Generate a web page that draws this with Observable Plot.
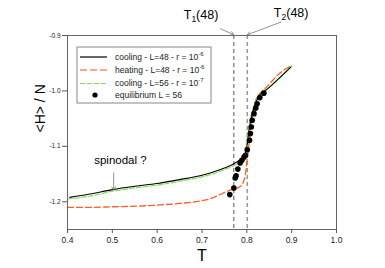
<!DOCTYPE html>
<html><head><meta charset="utf-8">
<script src="https://cdn.jsdelivr.net/npm/d3@7"></script>
<script src="https://cdn.jsdelivr.net/npm/@observablehq/plot@0.6"></script>
<style>
body{margin:0;background:#fff;}
svg{font-family:"Liberation Sans",Arial,Helvetica,sans-serif;}
</style>
</head><body><div id="chart"></div>
<script>
// ---- data ----
const xTicks = [0.4, 0.5, 0.6, 0.7, 0.8, 0.9, 1.0];
const yTicks = [-0.9, -1.0, -1.1, -1.2];

const coolT48 = [0.405,0.45,0.5,0.55,0.6,0.65,0.7,0.73,0.75,0.77,0.785,0.795,0.8,0.805,0.812,0.82,0.83,0.842,0.868,0.898];
const coolH48 = [-1.192,-1.186,-1.178,-1.172,-1.167,-1.16,-1.152,-1.145,-1.139,-1.132,-1.124,-1.116,-1.101,-1.071,-1.041,-1.021,-1.006,-0.999,-0.98,-0.957];

const heatT48 = [0.4,0.45,0.5,0.55,0.6,0.65,0.7,0.72,0.74,0.76,0.775,0.786,0.793,0.797,0.801,0.806,0.81,0.814,0.82,0.829,0.838,0.853,0.875,0.898];
const heatH48 = [-1.21,-1.21,-1.209,-1.208,-1.206,-1.203,-1.198,-1.194,-1.187,-1.18,-1.176,-1.172,-1.163,-1.15,-1.12,-1.089,-1.059,-1.038,-1.017,-1.004,-0.998,-0.985,-0.967,-0.955];

const coolT56 = [0.4,0.45,0.5,0.55,0.6,0.65,0.7,0.73,0.75,0.77,0.785,0.793,0.798,0.803,0.81,0.818,0.828,0.84,0.868,0.9];
const coolH56 = [-1.195,-1.19,-1.181,-1.175,-1.17,-1.163,-1.155,-1.148,-1.142,-1.135,-1.127,-1.118,-1.1,-1.072,-1.043,-1.022,-1.006,-0.999,-0.981,-0.955];

const eqT56 = [0.762,0.771,0.774,0.776,0.780,0.785,0.789,0.794,0.797,0.801,0.806,0.808,0.810,0.812,0.816,0.820,0.823,0.829,0.838];
const eqH56 = [-1.187,-1.175,-1.157,-1.153,-1.141,-1.130,-1.125,-1.119,-1.116,-1.106,-1.089,-1.077,-1.065,-1.053,-1.041,-1.031,-1.023,-1.012,-1.004];

const transT = [0.771, 0.801];          // T1(48), T2(48)
const transNames = ["T", "T"];
const transSubs = ["1", "2"];
const transLabelT = [0.699, 0.900];
const transLabelH = [-0.864, -0.860];
const transArrowFromT = [0.7415, 0.8754];
const transArrowFromH = [-0.8879, -0.876];
const transArrowToH = -0.8987;

const spinT = 0.503;
const spinLabel = "spinodal ?";

const legendLabels = ["cooling - L=48 - r = 10", "heating - L=48 - r = 10", "cooling - L=56 - r = 10", "equilibrium L = 56"];
const legendExps = ["-6", "-6", "-7", ""];

// ---- build ----
const zip = (xs, ys) => xs.map((x, i) => ({x, y: ys[i]}));
const orange = "#ff5a1f", green = "#7ee05a";

const chart = Plot.plot({
  width: 385, height: 268,
  marginLeft: 67, marginRight: 49, marginTop: 35, marginBottom: 39,
  style: {background: "#fff", color: "#222", overflow: "visible", fontFamily: "Liberation Sans, Arial, sans-serif"},
  x: {domain: [0.4, 1.0]},
  y: {domain: [-1.25, -0.9]},
  marks: [
    Plot.ruleX([transT[0]], {stroke: "#555", strokeWidth: 1, strokeDasharray: "4,3"}),
    Plot.ruleX([transT[1]], {stroke: "#999", strokeWidth: 1.6, strokeDasharray: "4,3"}),
    Plot.line(zip(heatT48, heatH48), {x: "x", y: "y", stroke: orange, strokeWidth: 1.3, strokeDasharray: "6,3", curve: "monotone-x"}),
    Plot.line(zip(coolT56, coolH56), {x: "x", y: "y", stroke: green, strokeWidth: 1.2, strokeDasharray: "5,2", curve: "monotone-x"}),
    Plot.line(zip(coolT48, coolH48), {x: "x", y: "y", stroke: "#000", strokeWidth: 1.1, curve: "monotone-x"}),
    Plot.dot(zip(eqT56, eqH56), {x: "x", y: "y", r: 2.8, fill: "#000", stroke: "none"}),
    Plot.frame({stroke: "#666", strokeWidth: 1}),
    Plot.axisX(xTicks, {tickSize: 4, tickPadding: 3, fontSize: 8.5, tickFormat: d => d.toFixed(1), label: null, stroke: "#555"}),
    Plot.axisY(yTicks, {tickSize: 5, tickPadding: 2, fontSize: 6.5, tickFormat: d => d.toFixed(1), label: null, stroke: "#555"}),
    Plot.text(["T"], {frameAnchor: "bottom", dy: 31, fontSize: 16, fill: "#000"}),
    Plot.text(["<H> / N"], {frameAnchor: "left", dx: -27, rotate: -90, fontSize: 14, fill: "#000"}),
    Plot.arrow([0, 1], {x1: i => transArrowFromT[i], y1: i => transArrowFromH[i], x2: i => transT[i], y2: transArrowToH, stroke: "#777", strokeWidth: 0.8, headLength: 7}),
    Plot.text([spinLabel], {x: 0.518, y: -1.125, fontSize: 11.5, fill: "#000"}),
    Plot.arrow([spinT], {x1: d => d, x2: d => d, y1: -1.148, y2: -1.179, stroke: "#777", strokeWidth: 0.8, headLength: 7})
  ]
});
document.getElementById("chart").appendChild(chart);

const svg = d3.select(chart);
const sx = chart.scale("x"), sy = chart.scale("y");

// T1 / T2 labels with subscripts
transNames.forEach((n, i) => {
  const t = svg.append("text")
    .attr("x", sx.apply(transLabelT[i])).attr("y", sy.apply(transLabelH[i]))
    .attr("text-anchor", "middle").attr("dy", "0.35em")
    .attr("font-size", 12.5).attr("fill", "#000");
  t.append("tspan").text(n);
  t.append("tspan").attr("font-size", 8.5).attr("dy", 3).text(transSubs[i]);
  t.append("tspan").attr("dy", -3).text("(48)");
});

// legend
const lg = svg.append("g").attr("transform", "translate(77,47)");
lg.append("rect").attr("width", 134).attr("height", 56).attr("fill", "#fff").attr("stroke", "#888").attr("stroke-width", 1);
const rowY = [10, 23, 36.5, 48];
const styles = [
  {stroke: "#000", dash: null, w: 1.2},
  {stroke: "#ff8a66", dash: "7,3", w: 1.4},
  {stroke: green, dash: "5,2", w: 1.1},
  null
];
legendLabels.forEach((lab, i) => {
  const y = rowY[i];
  if (styles[i]) {
    const l = lg.append("line").attr("x1", 3).attr("x2", 30).attr("y1", y).attr("y2", y)
      .attr("stroke", styles[i].stroke).attr("stroke-width", styles[i].w);
    if (styles[i].dash) l.attr("stroke-dasharray", styles[i].dash);
  } else {
    lg.append("circle").attr("cx", 18).attr("cy", y).attr("r", 2.6).attr("fill", "#000");
  }
  const t = lg.append("text").attr("x", 38).attr("y", y).attr("dy", "0.35em")
    .attr("text-anchor", "start")
    .attr("font-size", 8.5).attr("fill", "#222");
  t.append("tspan").text(lab);
  if (legendExps[i]) t.append("tspan").attr("font-size", 6).attr("dy", -4).text(legendExps[i]);
});
</script>
</body></html>
